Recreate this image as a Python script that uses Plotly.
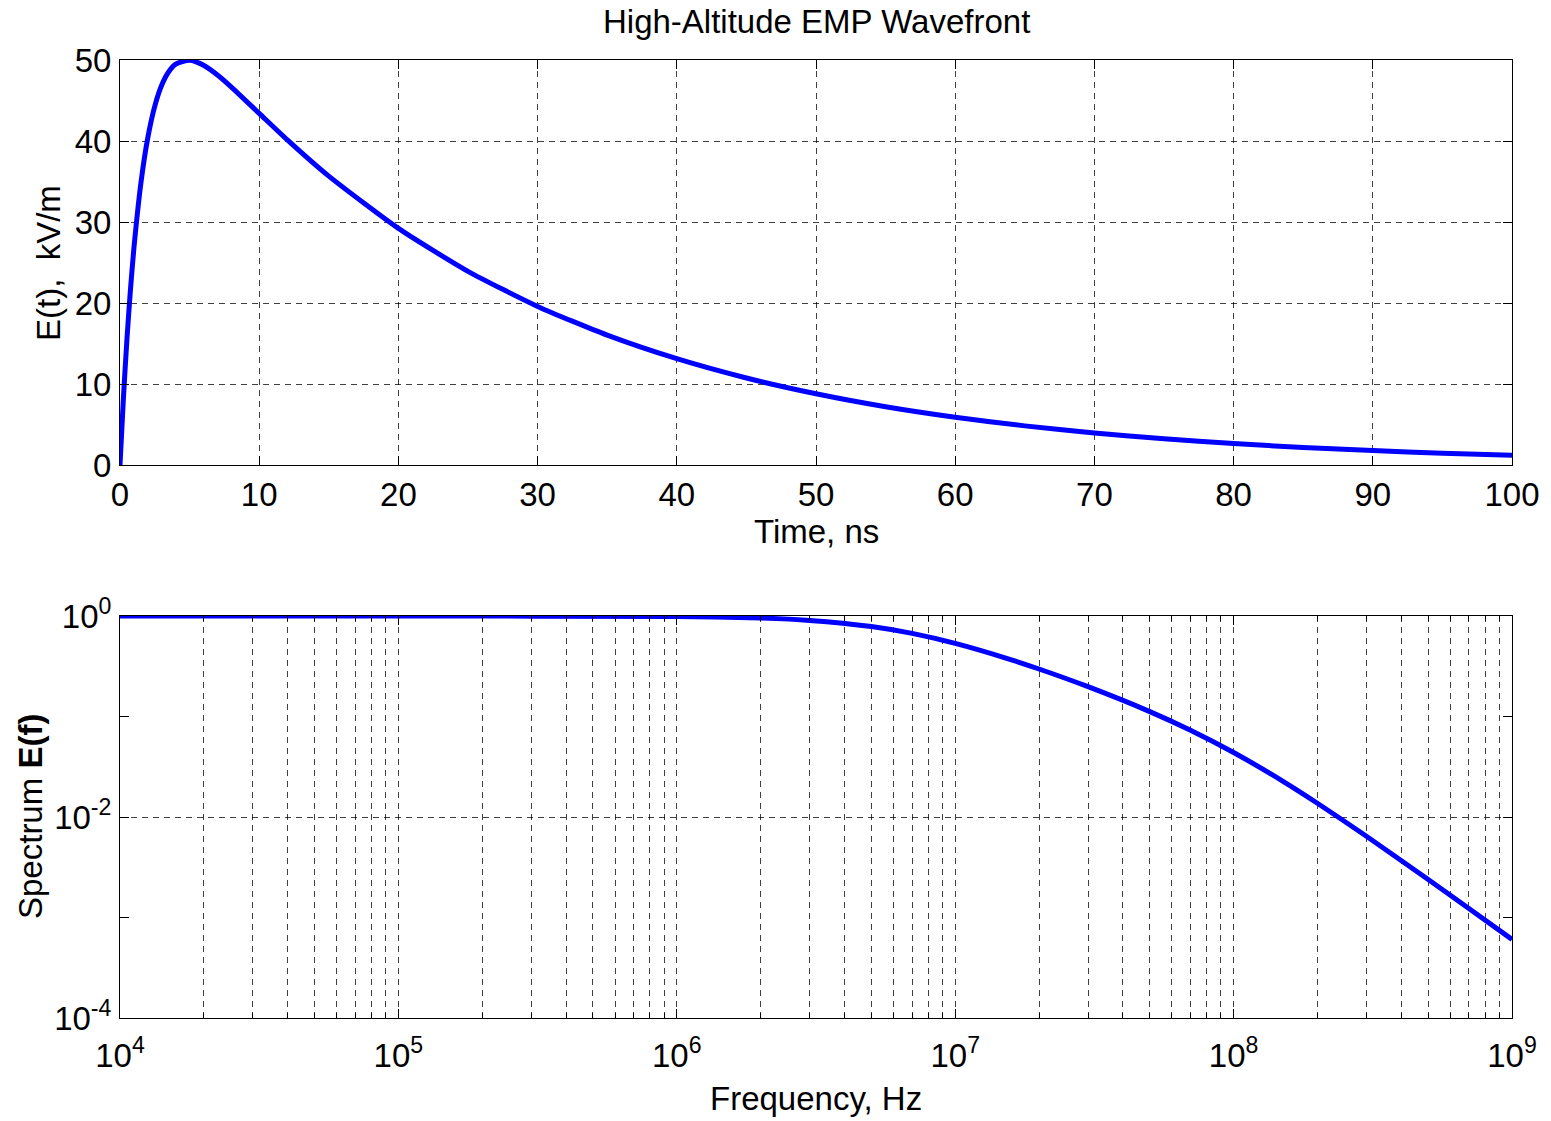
import plotly.graph_objects as go

# Time-domain waveform (ns, kV/m)
time_ns = [0, 0.25, 0.5, 0.75, 1, 1.5, 2, 2.5, 3, 3.5, 4, 5, 6, 7, 8, 10, 12, 15,
           20, 25, 30, 35, 40, 45, 50, 55, 60, 65, 70, 75, 80, 85, 90, 95, 100]
field_kvm = [0, 8.41, 15.56, 21.63, 26.78, 34.79, 40.43, 44.31, 46.91, 48.55, 49.49,
             49.98, 49.35, 48.15, 46.66, 43.41, 40.17, 35.66, 29.21, 23.91, 19.58,
             16.03, 13.12, 10.74, 8.80, 7.20, 5.90, 4.83, 3.95, 3.24, 2.65, 2.17,
             1.78, 1.45, 1.19]

# Spectrum (Hz, normalized)
freq_hz = [1e4, 1e5, 1e6, 2e6, 3e6, 5e6, 7e6, 1e7, 1.5e7, 2e7, 3e7, 5e7, 7e7,
           1e8, 1.5e8, 2e8, 3e8, 5e8, 7e8, 1e9]
spectrum = [1.0, 0.99988, 0.9878, 0.9538, 0.9041, 0.7853, 0.6710, 0.5341, 0.3860,
            0.2969, 0.1980, 0.11189, 0.07305, 0.04388, 0.022772, 0.013708, 0.006435,
            0.002388, 0.0012293, 0.0006052]

time_ticks = [0, 10, 20, 30, 40, 50, 60, 70, 80, 90, 100]
field_ticks = [0, 10, 20, 30, 40, 50]
freq_ticks = [1e4, 1e5, 1e6, 1e7, 1e8, 1e9]
freq_ticktext = ["10<sup>4</sup>", "10<sup>5</sup>", "10<sup>6</sup>",
                 "10<sup>7</sup>", "10<sup>8</sup>", "10<sup>9</sup>"]
spec_ticks = [1e-4, 1e-2, 1e0]
spec_ticktext = ["10<sup>-4</sup>", "10<sup>-2</sup>", "10<sup>0</sup>"]
spec_minor = [1e-3, 1e-1]
freq_minor = [m * 10 ** e for e in range(4, 9) for m in range(2, 10)]

# page body has an 8px margin; figure coordinates are page coordinates minus 8
OFF = 8
W, H = 1551, 1121
FONT = "Liberation Sans, Arial, Helvetica, sans-serif"
TICKFS = 33
LABFS = 33
BLUE = "rgb(0,0,255)"
GRIDDASH = "6px,5px"
GRIDCOL = "rgba(0,0,0,0.75)"


def px(v):
    return (v - OFF) / W


def py(v):
    return (H - (v - OFF)) / H


x0, x1 = px(120), px(1512)
top_dom = [py(465), py(60)]
bot_dom = [py(1018), py(616)]

fig = go.Figure()
fig.add_trace(go.Scatter(x=time_ns, y=field_kvm, mode="lines", xaxis="x", yaxis="y",
                         line=dict(color=BLUE, width=5, shape="spline", smoothing=0.6),
                         showlegend=False))
fig.add_trace(go.Scatter(x=freq_hz, y=spectrum, mode="lines", xaxis="x2", yaxis="y2",
                         line=dict(color=BLUE, width=5, shape="spline", smoothing=0.6),
                         showlegend=False))

common = dict(showline=True, linecolor="black", linewidth=1, mirror="allticks",
              ticks="inside", ticklen=9, tickcolor="black", tickwidth=1,
              showgrid=True, gridcolor=GRIDCOL, griddash=GRIDDASH, gridwidth=1,
              zeroline=False, automargin=False,
              tickfont=dict(family=FONT, size=TICKFS, color="black"))

fig.update_layout(
    width=W, height=H, autosize=False,
    margin=dict(l=0, r=0, t=0, b=0, autoexpand=False),
    paper_bgcolor="white", plot_bgcolor="white",
    font=dict(family=FONT, color="black"),
    xaxis=dict(domain=[x0, x1], anchor="y", range=[0, 100], tickvals=time_ticks,
               ticklabelstandoff=0, **common),
    yaxis=dict(domain=top_dom, anchor="x", range=[0, 50], tickvals=field_ticks,
               ticklabelstandoff=1, **common),
    xaxis2=dict(domain=[x0, x1], anchor="y2", type="log", range=[4, 9],
                tickvals=freq_ticks, ticktext=freq_ticktext, ticklabelstandoff=8,
                minor=dict(tickvals=freq_minor, ticks="inside", ticklen=5,
                           tickcolor="black", showgrid=True, gridcolor=GRIDCOL,
                           griddash=GRIDDASH, gridwidth=1),
                **common),
    yaxis2=dict(domain=bot_dom, anchor="x2", type="log", range=[-4, 0],
                tickvals=spec_ticks, ticktext=spec_ticktext, ticklabelstandoff=1,
                minor=dict(tickvals=spec_minor, ticks="inside", ticklen=9,
                           tickcolor="black", showgrid=False),
                **common),
)

ann_font = dict(family=FONT, size=LABFS, color="black")
fig.add_annotation(text="High-Altitude EMP Wavefront", x=(x0 + x1) / 2, y=py(22),
                   xref="paper", yref="paper", showarrow=False, font=ann_font,
                   xanchor="center", yanchor="middle")
fig.add_annotation(text="Time, ns", x=(x0 + x1) / 2, y=py(531),
                   xref="paper", yref="paper", showarrow=False, font=ann_font,
                   xanchor="center", yanchor="middle")
fig.add_annotation(text="Frequency, Hz", x=(x0 + x1) / 2, y=py(1098),
                   xref="paper", yref="paper", showarrow=False, font=ann_font,
                   xanchor="center", yanchor="middle")
fig.add_annotation(text="E(t),  kV/m", x=px(48), y=py(263), textangle=-90,
                   xref="paper", yref="paper", showarrow=False, font=ann_font,
                   xanchor="center", yanchor="middle")
fig.add_annotation(text="Spectrum <b>E(f)</b>", x=px(30), y=py(817), textangle=-90,
                   xref="paper", yref="paper", showarrow=False, font=ann_font,
                   xanchor="center", yanchor="middle")

fig.write_html("out.html")
